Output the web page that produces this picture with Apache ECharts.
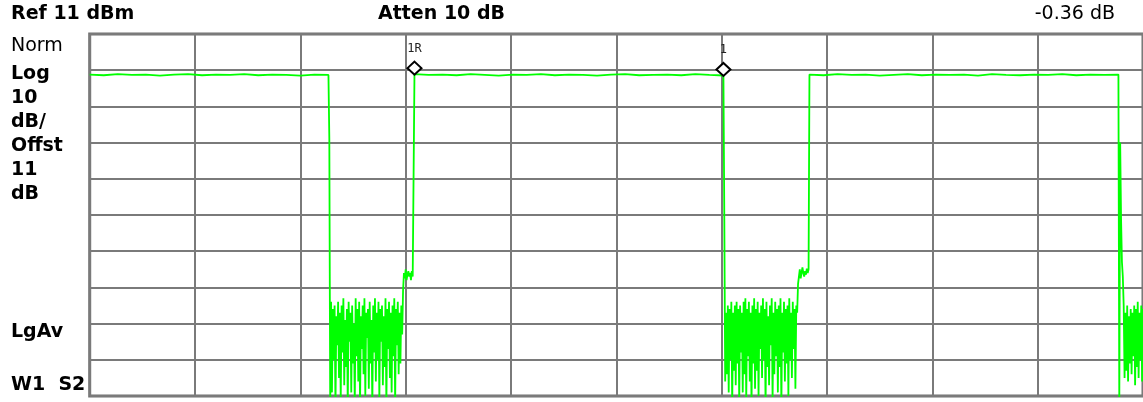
<!DOCTYPE html>
<html>
<head>
<meta charset="utf-8">
<script src="https://cdn.jsdelivr.net/npm/echarts@6/dist/echarts.min.js"></script>
<style>
  html, body { margin: 0; padding: 0; background: #fff; }
  #chart { width: 1143px; height: 402px; }
</style>
</head>
<body>
<div id="chart"></div>
<script>
// sweep points across 10 divisions, dBm values
const sweepMax = 1200
const refLevel = 11
const bottomLevel = -89

// burst "on" plateaus, one value every 16 sweep points
const onStep = 16
const onStarts = [0, 370, 820]
const onA = [-0.2, -0.4, -0.1, -0.3, -0.2, -0.5, -0.2, -0.1, -0.4, -0.2, -0.3, -0.1, -0.4, -0.2, -0.3, -0.5, -0.2, -0.3]
const onB = [-0.10, -0.3, -0.2, -0.4, -0.1, -0.3, -0.5, -0.2, -0.3, -0.1, -0.4, -0.2, -0.3, -0.5, -0.2, -0.1, -0.4, -0.3, -0.2, -0.4, -0.1, -0.3, -0.46]
const onC = [-0.2, -0.4, -0.1, -0.3, -0.2, -0.5, -0.3, -0.1, -0.4, -0.2, -0.3, -0.2, -0.5, -0.1, -0.3, -0.4, -0.2, -0.3, -0.1, -0.4, -0.2, -0.3, -0.2]

// gaps between bursts, one value per sweep point
const gapStarts = [273, 723, 1173]
const gapA = [-18, -92,
  -63, -88, -65, -79, -64, -92, -67, -75, -63, -84,
  -66, -90, -64, -77, -62, -86, -68, -81, -65, -92,
  -63, -74, -66, -88, -64, -80, -69, -91, -62, -78,
  -65, -85, -63, -92, -67, -76, -64, -83, -62, -89,
  -66, -73, -65, -87, -63, -80, -68, -92, -64, -77,
  -62, -85, -66, -79, -63, -90, -65, -74, -64, -86,
  -67, -81, -62, -92, -65, -76, -63, -84, -66, -88,
  -64, -78, -62, -91, -65, -75, -63, -83, -66, -80,
  -64, -72, -60,
  -55, -56.5, -54, -57, -55.5, -54.5, -56, -55, -57, -54.5, -56, -55.5]
const gapB = [-40, -85,
  -66, -83, -64, -88, -65, -79, -63, -92, -66, -82,
  -64, -86, -63, -80, -65, -91, -64, -77, -66, -88,
  -63, -83, -62, -90, -65, -78, -63, -85, -66, -92,
  -64, -80, -62, -87, -65, -82, -63, -89, -66, -76,
  -64, -84, -62, -79, -65, -92, -63, -81, -67, -86,
  -64, -75, -62, -90, -66, -83, -63, -78, -65, -88,
  -64, -81, -62, -92, -66, -77, -63, -85, -65, -80,
  -64, -89, -62, -79, -66, -84, -63, -76, -65, -87,
  -64, -66, -58,
  -56, -54, -56.5, -55, -53.5, -55, -56, -54.5, -55.5, -53.8, -55, -54]
const gapC = [-92, -19, -40, -52, -56, -64, -84, -66, -82, -64, -85, -67, -80, -65,
  -83, -66, -78, -64, -86, -65, -81, -63, -84, -66, -79, -64, -85, -65]

// markers
const markerPts = [370, 722]
const markerNames = ['1R', '1']

const headerLeft = 'Ref 11 dBm'
const headerMid = 'Atten 10 dB'
const headerRight = '-0.36 dB'
const sideLabels = ['Norm', 'Log', '10', 'dB/', 'Offst', '11', 'dB', 'LgAv', 'W1  S2']

function seg(start, step, vals) {
  return vals.map((v, i) => [start + i * step, v])
}

const trace = [].concat(
  seg(onStarts[0], onStep, onA),
  seg(gapStarts[0], 1, gapA),
  seg(onStarts[1], onStep, onB),
  seg(gapStarts[1], 1, gapB),
  seg(onStarts[2], onStep, onC),
  seg(gapStarts[2], 1, gapC)
)

function valueAt(pt) {
  const p = trace.find(d => d[0] === pt)
  return p ? p[1] : 0
}

const chart = echarts.init(document.getElementById('chart'), null, { renderer: 'canvas' })

const boldFont = 'bold 19px "DejaVu Sans", sans-serif'
const normFont = '19px "DejaVu Sans", sans-serif'
const sideY = [37, 65, 89, 113, 137, 161, 185, 323, 376]
const sideBold = [false, true, true, true, true, true, true, true, true]

const graphics = [
  { type: 'text', left: 11, top: 5, style: { text: headerLeft, font: boldFont, fill: '#000' } },
  { type: 'text', left: 378, top: 5, style: { text: headerMid, font: boldFont, fill: '#000' } },
  { type: 'text', right: 28, top: 5, style: { text: headerRight, font: normFont, fill: '#000' } },
]
sideLabels.forEach((t, i) => {
  graphics.push({
    type: 'text', left: 11, top: sideY[i],
    style: { text: t, font: sideBold[i] ? boldFont : normFont, fill: '#000' }
  })
})

const option = {
  animation: false,
  backgroundColor: '#fff',
  grid: {
    left: 89.7, top: 34, width: 1060, height: 362,
    show: true, borderWidth: 3, borderColor: '#707070', backgroundColor: '#fff'
  },
  xAxis: {
    type: 'value', min: 0, max: sweepMax, interval: 120,
    axisLine: { show: false }, axisTick: { show: false }, axisLabel: { show: false },
    splitLine: { lineStyle: { color: '#7a7a7a', width: 2 } }
  },
  yAxis: {
    type: 'value', min: bottomLevel, max: refLevel, interval: 10,
    axisLine: { show: false }, axisTick: { show: false }, axisLabel: { show: false },
    splitLine: { lineStyle: { color: '#7a7a7a', width: 2 } }
  },
  graphic: graphics,
  series: [{
    type: 'line',
    data: trace,
    showSymbol: false,
    clip: true,
    lineStyle: { color: '#00ff00', width: 1.8 },
    itemStyle: { color: '#00ff00' },
    markPoint: {
      symbol: 'diamond',
      symbolSize: [14, 13],
      symbolOffset: [0, -6],
      itemStyle: { color: '#fff', borderColor: '#000', borderWidth: 2 },
      label: {
        show: true, position: 'top', distance: 6,
        formatter: '{b}', color: '#222', fontSize: 12,
        fontFamily: '"DejaVu Sans Mono", monospace'
      },
      data: markerPts.map((p, i) => ({ name: markerNames[i], coord: [p, valueAt(p)] }))
    }
  }]
}

chart.setOption(option)
</script>
</body>
</html>
